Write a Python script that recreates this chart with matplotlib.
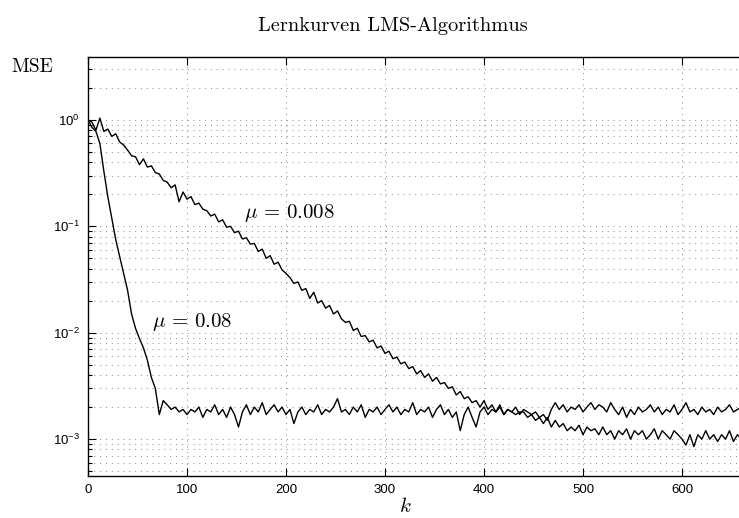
import numpy as np
import matplotlib
matplotlib.use("Agg")
import matplotlib.pyplot as plt
from matplotlib.ticker import LogLocator, FixedLocator, NullFormatter

plt.rcParams['mathtext.fontset'] = 'custom'
plt.rcParams['mathtext.rm'] = 'Liberation Sans'
plt.rcParams['mathtext.it'] = 'Liberation Sans:italic'
plt.rcParams['font.family'] = ['Liberation Sans', 'DejaVu Sans']

title = "Lernkurven LMS-Algorithmus"
ylabel = "MSE"
xlabel = "$k$"
label_fast = r"$\mu\,=\,0.08$"
label_slow = r"$\mu\,=\,0.008$"

k = np.arange(0, 661, 4)

mse_fast = [
    1.00, 0.85, 0.78, 0.60, 0.33, 0.19, 0.12, 0.075, 0.052, 0.036,
    0.025, 0.015, 0.011, 0.0088, 0.0072, 0.0055, 0.0038, 0.0030, 0.0017, 0.0023,
    0.0021, 0.0019, 0.0020, 0.0018, 0.0019, 0.0017, 0.0019, 0.0018, 0.0020, 0.0016,
    0.0019, 0.0018, 0.0021, 0.0017, 0.0019, 0.0016, 0.0020, 0.0017, 0.0013, 0.0018,
    0.0021, 0.0017, 0.0020, 0.0018, 0.0022, 0.0017, 0.0019, 0.0021, 0.0018, 0.0020,
    0.0017, 0.0019, 0.0014, 0.0018, 0.0020, 0.0017, 0.0019, 0.0018, 0.0021, 0.0017,
    0.0019, 0.0018, 0.0020, 0.0024, 0.0018, 0.0019, 0.0017, 0.0020, 0.0018, 0.0021,
    0.0016, 0.0019, 0.0018, 0.0020, 0.0017, 0.0019, 0.0021, 0.0018, 0.0020, 0.0017,
    0.0019, 0.0018, 0.0022, 0.0017, 0.0019, 0.0018, 0.0020, 0.0016, 0.0019, 0.0021,
    0.0017, 0.0019, 0.0016, 0.0018, 0.0012, 0.0017, 0.0020, 0.0016, 0.0013, 0.0018,
    0.0020, 0.0017, 0.0019, 0.0018, 0.0021, 0.0017, 0.0019, 0.0018, 0.0020, 0.0017,
    0.0019, 0.0018, 0.0017, 0.0018, 0.0016, 0.0017, 0.0015, 0.0019, 0.0022, 0.0019,
    0.0021, 0.0018, 0.0020, 0.0019, 0.0021, 0.0018, 0.0020, 0.0022, 0.0019, 0.0021,
    0.0020, 0.0018, 0.0022, 0.0019, 0.0017, 0.0020, 0.0016, 0.0019, 0.0017, 0.0020,
    0.0018, 0.0019, 0.0021, 0.0018, 0.0020, 0.0017, 0.0019, 0.0018, 0.0021, 0.0017,
    0.0019, 0.0022, 0.0018, 0.0019, 0.0017, 0.0020, 0.0018, 0.0019, 0.0017, 0.0020,
    0.0018, 0.0019, 0.0021, 0.0018, 0.0019, 0.0020,
]

mse_slow = [
    1.00, 0.95, 0.80, 1.04, 0.78, 0.82, 0.70, 0.74, 0.62, 0.58,
    0.52, 0.46, 0.45, 0.38, 0.43, 0.36, 0.37, 0.32, 0.31, 0.27,
    0.26, 0.23, 0.245, 0.17, 0.21, 0.18, 0.19, 0.16, 0.165, 0.145,
    0.14, 0.125, 0.13, 0.11, 0.115, 0.098, 0.10, 0.087, 0.09, 0.076,
    0.078, 0.068, 0.069, 0.058, 0.061, 0.050, 0.053, 0.044, 0.046, 0.039,
    0.036, 0.033, 0.029, 0.030, 0.025, 0.026, 0.021, 0.024, 0.019, 0.020,
    0.017, 0.018, 0.015, 0.016, 0.0135, 0.0125, 0.0128, 0.0105, 0.011, 0.0092,
    0.0094, 0.0082, 0.0085, 0.0072, 0.0075, 0.0064, 0.0067, 0.0057, 0.0059, 0.0051,
    0.0053, 0.0046, 0.0048, 0.0041, 0.0044, 0.0038, 0.0041, 0.0035, 0.0038, 0.0033,
    0.0034, 0.0030, 0.0031, 0.0026, 0.0028, 0.0024, 0.0025, 0.0022, 0.0023, 0.0020,
    0.0023, 0.0019, 0.0021, 0.0018, 0.0020, 0.0017, 0.0019, 0.0018, 0.0017, 0.0018,
    0.0018, 0.0016, 0.0017, 0.0015, 0.0016, 0.0014, 0.0016, 0.0013, 0.0015, 0.0013,
    0.0014, 0.0012, 0.0013, 0.0012, 0.00135, 0.0011, 0.0013, 0.0012, 0.00125, 0.0011,
    0.0013, 0.0011, 0.0012, 0.0010, 0.0012, 0.0011, 0.00125, 0.0010, 0.0012, 0.0011,
    0.0012, 0.0010, 0.0011, 0.00125, 0.0010, 0.0012, 0.0011, 0.0010, 0.0012, 0.0011,
    0.0010, 0.00088, 0.0011, 0.00085, 0.0011, 0.0010, 0.0012, 0.0010, 0.0011, 0.00095,
    0.0011, 0.0010, 0.0012, 0.00095, 0.0011, 0.0010,
]

xticks = [0, 100, 200, 300, 400, 500, 600]

W, H = 739, 518
fig = plt.figure(figsize=(W / 100, H / 100), dpi=100)
ax = fig.add_axes([88 / W, 42 / H, 693 / W, 419 / H])

ax.plot(k, mse_fast, color='black', lw=1.0)
ax.plot(k, mse_slow, color='black', lw=1.0)

ax.set_yscale('log')
ax.set_xlim(0, 700)
ax.set_ylim(4.5e-4, 3.9)
ax.xaxis.set_major_locator(FixedLocator(xticks))
ax.yaxis.set_major_locator(LogLocator(base=10, numticks=10))
ax.yaxis.set_minor_locator(LogLocator(base=10, subs=np.arange(2, 10), numticks=20))
ax.yaxis.set_minor_formatter(NullFormatter())

ax.grid(True, which='major', axis='both', linestyle=(0, (1, 5)), color='#888888', lw=0.7)
ax.grid(True, which='minor', axis='y', linestyle=(0, (1, 5)), color='#888888', lw=0.7)
ax.set_axisbelow(True)

ax.tick_params(which='both', direction='in', top=True, right=True, labelsize=9.5, width=0.8)
ax.tick_params(which='major', length=6, pad=6)
ax.tick_params(which='minor', length=3)
for s in ax.spines.values():
    s.set_linewidth(1.0)

fig.text(393 / W, 1 - 26 / H, title, family='cmr10', fontsize=14.7, va='center', ha='center')
fig.text(11 / W, 1 - 67 / H, ylabel, family='cmr10', fontsize=14, va='center', ha='left')
fig.text(405 / W, 1 - 506 / H, xlabel, fontsize=15, math_fontfamily='cm', ha='center', va='center')

ax.text(158, 0.134, label_slow, fontsize=15, math_fontfamily='cm', va='center', ha='left')
ax.text(65, 0.0126, label_fast, fontsize=15, math_fontfamily='cm', va='center', ha='left')

fig.savefig('out.png', dpi=100)
